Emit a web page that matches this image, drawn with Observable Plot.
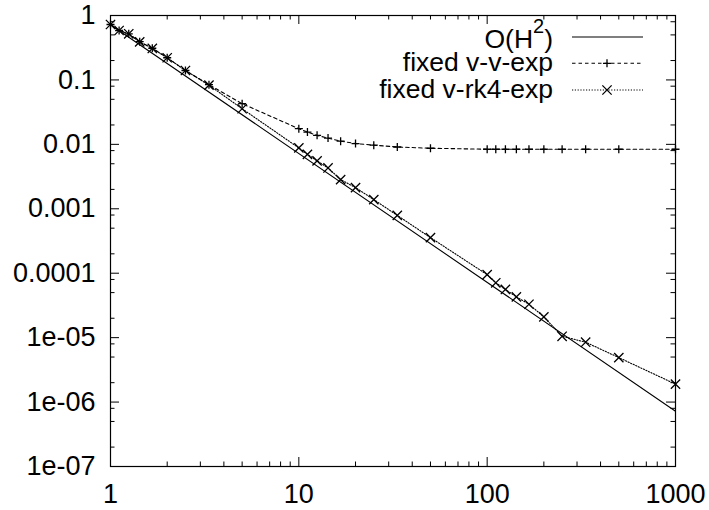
<!DOCTYPE html>
<html><head><meta charset="utf-8">
<script src="https://cdn.jsdelivr.net/npm/d3@7"></script>
<script src="https://cdn.jsdelivr.net/npm/@observablehq/plot@0.6"></script>
<style>body{margin:0;background:#fff}#chart{width:709px;height:510px}</style>
</head><body><div id="chart"></div>
<script>
// step sizes (x) shared by both series
const xs = [1, 1.111, 1.25, 1.429, 1.667, 2, 2.5, 3.333, 5, 10, 11.11, 12.5, 14.29, 16.67, 20, 25, 33.33, 50, 100, 111.1, 125, 142.9, 166.7, 200, 250, 333.3, 500, 1000];
const vvExp = [0.725, 0.585, 0.52, 0.392, 0.31, 0.221, 0.14, 0.0845, 0.0428, 0.0175, 0.0155, 0.0138, 0.0125, 0.0112, 0.0103, 0.0097, 0.0091, 0.0087, 0.0084, 0.0084, 0.0084, 0.0084, 0.0084, 0.0084, 0.0084, 0.0084, 0.0084, 0.0084];
const rk4Exp = [0.725, 0.585, 0.52, 0.39, 0.308, 0.221, 0.14, 0.083, 0.0357, 0.0088, 0.0070, 0.00555, 0.0043, 0.00284, 0.00213, 0.00139, 0.00079, 0.000357, 9.5e-5, 7.1e-5, 5.6e-5, 4.3e-5, 3.3e-5, 2.1e-5, 1.05e-5, 8.5e-6, 4.9e-6, 1.9e-6];
const ohX = [1, 1000];
const ohY = [0.72, 7.2e-7];

const seriesNames = ["O(H2)", "fixed v-v-exp", "fixed v-rk4-exp"];

const xTicks = [1, 10, 100, 1000];
const xTickLabels = ["1", "10", "100", "1000"];
const xMinor = [2,3,4,5,6,7,8,9,20,30,40,50,60,70,80,90,200,300,400,500,600,700,800,900];
const yTicks = [1, 0.1, 0.01, 0.001, 0.0001, 1e-5, 1e-6, 1e-7];
const yTickLabels = ["1", "0.1", "0.01", "0.001", "0.0001", "1e-05", "1e-06", "1e-07"];
const yMinor = [0.8,0.5,0.2,0.08,0.05,0.02,0.008,0.005,0.002,8e-4,5e-4,2e-4,8e-5,5e-5,2e-5,8e-6,5e-6,2e-6,8e-7,5e-7,2e-7];

const W = 709, H = 510, mL = 110, mR = 34, mT = 15, mB = 44;
const pw = W - mL - mR, ph = H - mT - mB;
const MAJ = 9, MIN = 4.5;
const PLUS_R = 2.7, TIMES_R = 4.3;

const ohData = ohX.map((x, i) => ({x, y: ohY[i]}));
const vvData = xs.map((x, i) => ({x, y: vvExp[i]}));
const rkData = xs.map((x, i) => ({x, y: rk4Exp[i]}));

const font = "'Liberation Sans', Arial, Helvetica, sans-serif";

const plot = Plot.plot({
  width: W, height: H,
  marginLeft: mL, marginRight: mR, marginTop: mT, marginBottom: mB,
  style: {fontFamily: font, fontSize: "27px", color: "black", background: "white"},
  x: {type: "log", domain: [1, 1000], label: null},
  y: {type: "log", domain: [1e-7, 1], label: null},
  marks: [
    // ticks (inward, mirrored)
    Plot.ruleX(xTicks, {x: d => d, insetTop: ph - MAJ, stroke: "black"}),
    Plot.ruleX(xTicks, {x: d => d, insetBottom: ph - MAJ, stroke: "black"}),
    Plot.ruleX(xMinor, {x: d => d, insetTop: ph - MIN, stroke: "black"}),
    Plot.ruleX(xMinor, {x: d => d, insetBottom: ph - MIN, stroke: "black"}),
    Plot.ruleY(yTicks, {y: d => d, insetRight: pw - MAJ, stroke: "black"}),
    Plot.ruleY(yTicks, {y: d => d, insetLeft: pw - MAJ, stroke: "black"}),
    Plot.ruleY(yMinor, {y: d => d, insetRight: pw - MIN, stroke: "black"}),
    Plot.ruleY(yMinor, {y: d => d, insetLeft: pw - MIN, stroke: "black"}),
    Plot.axisX(xTicks, {anchor: "bottom", tickSize: 0, tickPadding: 17, label: null, tickFormat: d => xTickLabels[xTicks.indexOf(d)]}),
    Plot.axisY(yTicks, {anchor: "left", tickSize: 0, tickPadding: 15, label: null, tickFormat: d => yTickLabels[yTicks.indexOf(d)]}),
    Plot.frame({stroke: "black", strokeWidth: 1.2}),
    // data
    Plot.line(ohData, {x: "x", y: "y", stroke: "black", strokeWidth: 1.1}),
    Plot.line(vvData, {x: "x", y: "y", stroke: "black", strokeWidth: 1.1, strokeDasharray: "3.5,3"}),
    Plot.dot(vvData, {x: "x", y: "y", symbol: "plus", r: PLUS_R, stroke: "black", strokeWidth: 1.3}),
    Plot.line(rkData, {x: "x", y: "y", stroke: "black", strokeWidth: 1.1, strokeDasharray: "1.2,1.6"}),
    Plot.dot(rkData, {x: "x", y: "y", symbol: "times", r: TIMES_R, stroke: "black", strokeWidth: 1.3})
  ]
});
document.getElementById("chart").appendChild(plot);

// legend inside the plot, top-right
const svg = d3.select(plot);
const lg = svg.append("g").attr("font-family", font).attr("font-size", 26.5).attr("fill", "black");
const rows = [
  {y: 37, base: 48.3, dash: null, sym: null},
  {y: 63.3, base: 71.3, dash: "3.5,3", sym: d3.symbolPlus, r: PLUS_R},
  {y: 90, base: 98.3, dash: "1.2,1.6", sym: d3.symbolTimes, r: TIMES_R}
];
rows.forEach((row, i) => {
  const t = lg.append("text").attr("x", 553).attr("y", row.base).attr("text-anchor", "end");
  if (i === 0) {
    t.append("tspan").text("O(H");
    t.append("tspan").attr("dy", -15).attr("font-size", 20).text("2");
    t.append("tspan").attr("dy", 15).text(")");
  } else {
    t.text(seriesNames[i]);
  }
  lg.append("line").attr("x1", 572).attr("x2", 643).attr("y1", row.y).attr("y2", row.y)
    .attr("stroke", "black").attr("stroke-width", 1.1).attr("stroke-dasharray", row.dash);
  if (row.sym) {
    lg.append("path").attr("d", d3.symbol(row.sym, Math.PI * row.r * row.r)())
      .attr("transform", `translate(607,${row.y})`).attr("fill", "none").attr("stroke", "black").attr("stroke-width", 1.3);
  }
});
</script>
</body></html>
